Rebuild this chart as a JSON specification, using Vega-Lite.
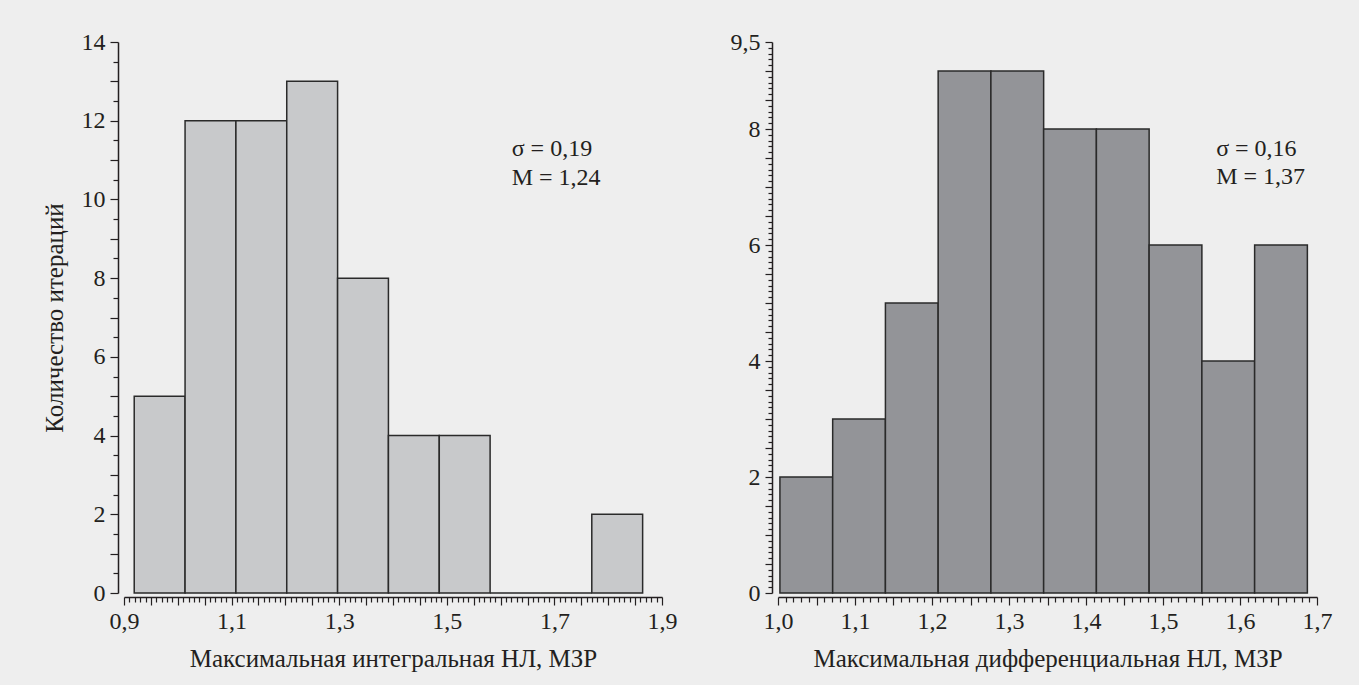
{
  "$schema": "https://vega.github.io/schema/vega-lite/v6.json",
  "background": "#eeeeee",
  "padding": {"left": 42, "top": 30, "right": 31, "bottom": 17},
  "spacing": 53,
  "config": {
    "font": "Liberation Serif",
    "view": {"stroke": null},
    "axis": {
      "grid": false,
      "domainColor": "#231f20",
      "domainWidth": 1.5,
      "tickColor": "#231f20",
      "tickWidth": 1.2,
      "labelColor": "#231f20",
      "titleColor": "#231f20",
      "labelFont": "Liberation Serif",
      "titleFont": "Liberation Serif",
      "labelFontSize": 24,
      "titleFontSize": 25,
      "titleFontWeight": "normal",
      "labelOverlap": false,
      "labelFlush": false,
      "labelBound": false
    }
  },
  "datasets": {
    "left": [
      {"bin_start": 0.919, "bin_end": 1.0135, "count": 5},
      {"bin_start": 1.0135, "bin_end": 1.108, "count": 12},
      {"bin_start": 1.108, "bin_end": 1.2025, "count": 12},
      {"bin_start": 1.2025, "bin_end": 1.297, "count": 13},
      {"bin_start": 1.297, "bin_end": 1.3915, "count": 8},
      {"bin_start": 1.3915, "bin_end": 1.486, "count": 4},
      {"bin_start": 1.486, "bin_end": 1.5805, "count": 4},
      {"bin_start": 1.5805, "bin_end": 1.675, "count": 0},
      {"bin_start": 1.675, "bin_end": 1.7695, "count": 0},
      {"bin_start": 1.7695, "bin_end": 1.864, "count": 2}
    ],
    "right": [
      {"bin_start": 1.0025, "bin_end": 1.071, "count": 2},
      {"bin_start": 1.071, "bin_end": 1.1395, "count": 3},
      {"bin_start": 1.1395, "bin_end": 1.208, "count": 5},
      {"bin_start": 1.208, "bin_end": 1.2765, "count": 9},
      {"bin_start": 1.2765, "bin_end": 1.345, "count": 9},
      {"bin_start": 1.345, "bin_end": 1.4135, "count": 8},
      {"bin_start": 1.4135, "bin_end": 1.482, "count": 8},
      {"bin_start": 1.482, "bin_end": 1.5505, "count": 6},
      {"bin_start": 1.5505, "bin_end": 1.619, "count": 4},
      {"bin_start": 1.619, "bin_end": 1.6875, "count": 6}
    ],
    "notes_left": [
      {"bin_start": 1.6206, "count": 11.28, "label": "σ = 0,19\nM = 1,24"}
    ],
    "notes_right": [
      {"bin_start": 1.569, "count": 7.656, "label": "σ = 0,16\nM = 1,37"}
    ]
  },
  "hconcat": [
    {
      "width": 538,
      "height": 551,
      "layer": [
        {
          "data": {"name": "left"},
          "mark": {"type": "rect", "fill": "#c8c9cb", "stroke": "#2a2a2a", "strokeWidth": 1.5},
          "encoding": {
            "x": {
              "field": "bin_start",
              "type": "quantitative",
              "title": "Максимальная интегральная НЛ, МЗР",
              "scale": {"domain": [0.9, 1.9], "nice": false, "zero": false},
              "axis": {
                "tickCount": 100,
                "offset": 4,
                "labelPadding": 4,
                "titlePadding": 13,
                "labelExpr": "(abs(datum.value*10 - round(datum.value*10)) < 0.001 && round(datum.value*10) % 2 == 1) ? replace(format(datum.value, '.1f'), '.', ',') : ''",
                "tickSize": {"condition": {"test": "abs(datum.value*20 - round(datum.value*20)) < 0.001", "value": 8}, "value": 5}
              }
            },
            "x2": {"field": "bin_end"},
            "y": {
              "field": "count",
              "type": "quantitative",
              "title": "Количество итераций",
              "scale": {"domain": [0, 14], "nice": false},
              "axis": {
                "tickCount": 28,
                "offset": 6,
                "labelPadding": 5,
                "titlePadding": 14,
                "labelExpr": "(abs(datum.value/2 - round(datum.value/2)) < 0.001) ? format(datum.value, 'd') : ''",
                "tickSize": {"condition": {"test": "abs(datum.value - round(datum.value)) < 0.001", "value": 8}, "value": 5}
              }
            },
            "y2": {"datum": 0}
          }
        },
        {
          "data": {"name": "notes_left"},
          "mark": {"type": "text", "align": "left", "baseline": "middle", "lineBreak": "\n", "fontSize": 24, "lineHeight": 28.5, "font": "Liberation Serif", "color": "#231f20"},
          "encoding": {
            "x": {"field": "bin_start", "type": "quantitative", "title": "Максимальная интегральная НЛ, МЗР"},
            "y": {"field": "count", "type": "quantitative", "title": "Количество итераций"},
            "text": {"field": "label"}
          }
        }
      ]
    },
    {
      "width": 539,
      "height": 551,
      "layer": [
        {
          "data": {"name": "right"},
          "mark": {"type": "rect", "fill": "#939498", "stroke": "#2a2a2a", "strokeWidth": 1.5},
          "encoding": {
            "x": {
              "field": "bin_start",
              "type": "quantitative",
              "title": "Максимальная дифференциальная НЛ, МЗР",
              "scale": {"domain": [1.0, 1.7], "nice": false, "zero": false},
              "axis": {
                "tickCount": 70,
                "offset": 4,
                "labelPadding": 4,
                "titlePadding": 13,
                "labelExpr": "(abs(datum.value*10 - round(datum.value*10)) < 0.001) ? replace(format(datum.value, '.1f'), '.', ',') : ''",
                "tickSize": {"condition": {"test": "abs(datum.value*20 - round(datum.value*20)) < 0.001", "value": 8}, "value": 5}
              }
            },
            "x2": {"field": "bin_end"},
            "y": {
              "field": "count",
              "type": "quantitative",
              "title": null,
              "scale": {"domain": [0, 9.5], "nice": false},
              "axis": {
                "tickCount": 95,
                "offset": 6,
                "labelPadding": 5,
                "labelExpr": "(abs(datum.value/2 - round(datum.value/2)) < 0.001 || abs(datum.value - 9.5) < 0.001) ? replace(format(datum.value, '.1~f'), '.', ',') : ''",
                "tickSize": {"condition": {"test": "abs(datum.value*2 - round(datum.value*2)) < 0.001", "value": 7}, "value": 4}
              }
            },
            "y2": {"datum": 0}
          }
        },
        {
          "data": {"name": "notes_right"},
          "mark": {"type": "text", "align": "left", "baseline": "middle", "lineBreak": "\n", "fontSize": 24, "lineHeight": 28.5, "font": "Liberation Serif", "color": "#231f20"},
          "encoding": {
            "x": {"field": "bin_start", "type": "quantitative", "title": "Максимальная дифференциальная НЛ, МЗР"},
            "y": {"field": "count", "type": "quantitative", "title": null},
            "text": {"field": "label"}
          }
        }
      ]
    }
  ]
}
